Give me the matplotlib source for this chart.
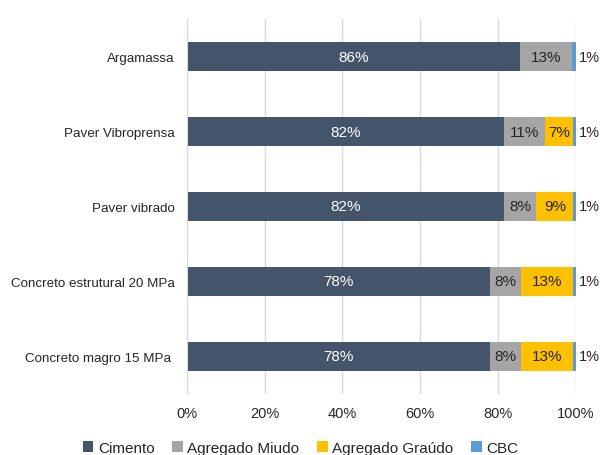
import matplotlib
matplotlib.use("Agg")
import matplotlib.pyplot as plt
import numpy as np

plt.rcParams['font.family'] = ['Liberation Sans', 'DejaVu Sans']

categories = ["Argamassa", "Paver Vibroprensa", "Paver vibrado",
              "Concreto estrutural 20 MPa", "Concreto magro 15 MPa "]
series_names = ["Cimento", "Agregado Miudo", "Agregado Graúdo", "CBC"]
cimento = [85.6, 81.5, 81.5, 77.9, 77.9]
miudo = [13.5, 10.6, 8.4, 8.0, 8.0]
graudo = [0.0, 7.2, 9.4, 13.3, 13.3]
cbc = [0.9, 0.7, 0.7, 0.8, 0.8]
labels = [["86%", "13%", "", "1%"],
          ["82%", "11%", "7%", "1%"],
          ["82%", "8%", "9%", "1%"],
          ["78%", "8%", "13%", "1%"],
          ["78%", "8%", "13%", "1%"]]
colors = ["#44546A", "#A5A5A5", "#FFC000", "#5B9BD5"]
ticks = [0, 20, 40, 60, 80, 100]
tick_labels = ["0%", "20%", "40%", "60%", "80%", "100%"]

fig = plt.figure(figsize=(6.01, 4.56), dpi=100)
ax = fig.add_axes([0.311, 0.134, 0.647, 0.822])

y = np.arange(len(categories))[::-1]
data = [cimento, miudo, graudo, cbc]
left = np.zeros(len(categories))
for s, (name, vals, col) in enumerate(zip(series_names, data, colors)):
    vals = np.array(vals)
    ax.barh(y, vals, left=left, height=0.39, color=col, label=name, zorder=3)
    for i in range(len(categories)):
        txt = labels[i][s]
        if not txt:
            continue
        if s == 3:
            ax.annotate(txt, (100, y[i]), xytext=(2.5, 0), textcoords="offset points",
                        ha="left", va="center", fontsize=10.5, color="#262626")
        else:
            ax.text(left[i] + vals[i] / 2, y[i], txt, ha="center", va="center",
                    fontsize=11, color="white" if s == 0 else "#262626", zorder=4)
    left = left + vals

ax.set_xlim(0, 100)
ax.set_ylim(-0.5, 4.5)
ax.set_yticks(y)
ax.set_yticklabels(categories, fontsize=9.6, color="#262626")
ax.set_xticks(ticks)
ax.set_xticklabels(tick_labels, fontsize=10.5, color="#262626")
ax.xaxis.grid(True, color="#D9D9D9", linewidth=1, zorder=0)
ax.tick_params(axis="x", length=0, pad=9)
ax.tick_params(axis="y", length=0, pad=9)
for sp in ["top", "right", "bottom"]:
    ax.spines[sp].set_visible(False)
ax.spines["left"].set_color("#D9D9D9")
ax.spines["left"].set_zorder(5)

leg = fig.legend(loc="lower center", bbox_to_anchor=(0.5, -0.03), ncol=4,
                 frameon=False, fontsize=11, handlelength=0.7, handleheight=0.7,
                 handletextpad=0.3, columnspacing=1.15)
for t in leg.get_texts():
    t.set_color("#262626")

fig.savefig("out.png", dpi=100)
